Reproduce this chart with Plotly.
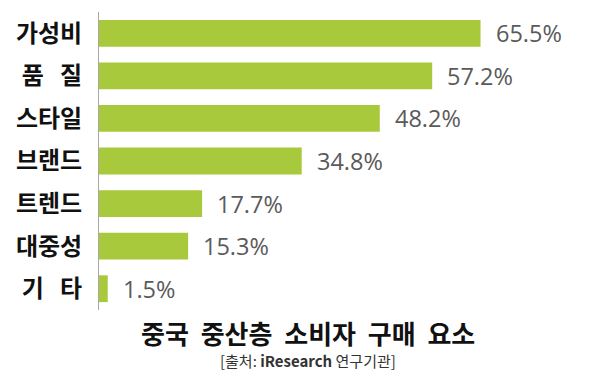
import plotly.graph_objects as go

categories = ["가성비", "품질", "스타일", "브랜드", "트렌드", "대중성", "기타"]
tick_labels = ["가성비", "품&nbsp;&nbsp;&nbsp;질", "스타일", "브랜드", "트렌드", "대중성", "기&nbsp;&nbsp;&nbsp;타"]
values = [65.5, 57.2, 48.2, 34.8, 17.7, 15.3, 1.5]
value_labels = ["65.5%", "57.2%", "48.2%", "34.8%", "17.7%", "15.3%", "1.5%"]

FONT = "Noto Sans CJK KR"

fig = go.Figure(go.Bar(
    x=values, y=categories, orientation="h",
    marker=dict(color="#a8c93b", line=dict(width=0)),
    width=0.63, hoverinfo="skip",
))

for v, c, t in zip(values, categories, value_labels):
    fig.add_annotation(x=v, y=c, text=t, xanchor="left", xshift=13, showarrow=False,
                       font=dict(family="Open Sans", size=23.5, color="#5a5a5a"))

fig.add_annotation(x=0.4485, y=-0.074, xref="paper", yref="paper", yanchor="middle",
                   text="<b>중국&nbsp;&nbsp;중산층&nbsp;&nbsp;소비자&nbsp;&nbsp;구매&nbsp;&nbsp;요소</b>",
                   showarrow=False, font=dict(family=FONT, size=26, color="#111"))
fig.add_annotation(x=0.4485, y=-0.168, xref="paper", yref="paper", yanchor="middle",
                   text="[출처: <b>iResearch</b> 연구기관]", showarrow=False,
                   font=dict(family=FONT, size=15, color="#333"))

fig.update_layout(
    width=600, height=373,
    margin=dict(l=91, r=43, t=4, b=71),
    paper_bgcolor="white", plot_bgcolor="white",
    showlegend=False,
    xaxis=dict(range=[0, 80], visible=False, fixedrange=True),
    yaxis=dict(autorange="reversed", showline=True, linecolor="#a8a8a8", linewidth=1,
               ticks="", ticklabelstandoff=11, showgrid=False,
               tickmode="array", tickvals=categories, ticktext=tick_labels,
               tickfont=dict(family=FONT, size=24, color="#111", weight="bold")),
)

fig.write_html("out.html")
